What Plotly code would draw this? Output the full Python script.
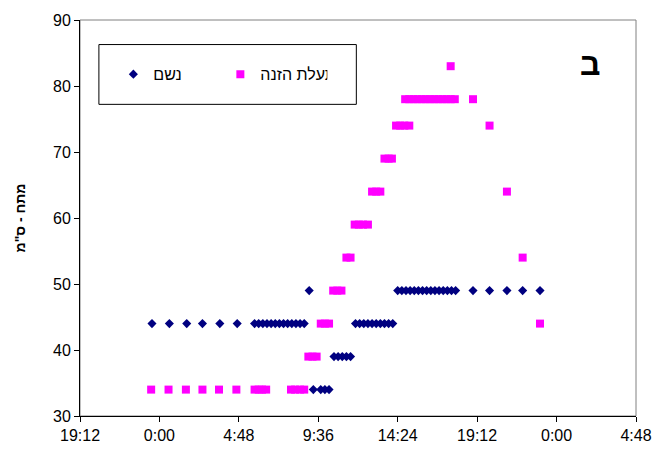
import plotly.graph_objects as go

# x values: hours counted from midnight of the first day (24 = next midnight)
breath_hours = [23.55, 24.6, 25.65, 26.6, 27.65, 28.7,
                29.75, 30.0, 30.25, 30.5, 30.75, 31.0, 31.25, 31.5, 31.75, 32.0, 32.25, 32.5, 32.75,
                33.05,
                33.3, 33.75, 34.0, 34.25,
                34.55, 34.8, 35.05, 35.3, 35.55,
                35.85, 36.1, 36.35, 36.6, 36.85, 37.1, 37.35, 37.6, 37.85, 38.1,
                38.4, 38.65, 38.9, 39.15, 39.4, 39.65, 39.9, 40.15, 40.4, 40.65, 40.9, 41.15, 41.4, 41.65, 41.9,
                42.95, 43.95, 45.0, 45.95, 47.0]
breath_values = [44, 44, 44, 44, 44, 44,
                 44, 44, 44, 44, 44, 44, 44, 44, 44, 44, 44, 44, 44,
                 49,
                 34, 34, 34, 34,
                 39, 39, 39, 39, 39,
                 44, 44, 44, 44, 44, 44, 44, 44, 44, 44,
                 49, 49, 49, 49, 49, 49, 49, 49, 49, 49, 49, 49, 49, 49, 49,
                 49, 49, 49, 49, 49]

feed_hours = [23.5, 24.55, 25.6, 26.6, 27.6, 28.65,
              29.75, 30.0, 30.2, 30.45,
              31.95, 32.2, 32.5, 32.75,
              33.0, 33.25, 33.5,
              33.75, 34.0, 34.25,
              34.5, 34.75, 35.0,
              35.3, 35.55,
              35.8, 36.05, 36.3, 36.6,
              36.85, 37.1, 37.35,
              37.6, 37.85, 38.05,
              38.3, 38.55, 38.8, 39.1,
              38.85, 39.1, 39.35, 39.6, 39.85, 40.1, 40.35, 40.6, 40.85, 41.1, 41.35, 41.6, 41.85,
              41.6,
              42.95, 43.95, 45.0, 45.95, 47.0]
feed_values = [34, 34, 34, 34, 34, 34,
               34, 34, 34, 34,
               34, 34, 34, 34,
               39, 39, 39,
               44, 44, 44,
               49, 49, 49,
               54, 54,
               59, 59, 59, 59,
               64, 64, 64,
               69, 69, 69,
               74, 74, 74, 74,
               78, 78, 78, 78, 78, 78, 78, 78, 78, 78, 78, 78, 78,
               83,
               78, 74, 64, 54, 44]

x_tick_vals = [19.2, 24.0, 28.8, 33.6, 38.4, 43.2, 48.0, 52.8]
x_tick_text = ["19:12", "0:00", "4:48", "9:36", "14:24", "19:12", "0:00", "4:48"]
y_tick_vals = [30, 40, 50, 60, 70, 80, 90]

series_names = ["נשם", "תעלת הזנה"]
y_title = 'מתח - ס"מ'
panel_label = "ב"

FONT = "Liberation Sans, Arial, sans-serif"

fig = go.Figure()
fig.add_trace(go.Scatter(x=breath_hours, y=breath_values, mode="markers",
                         name=series_names[0],
                         marker=dict(symbol="diamond", size=7, color="#000080",
                                     line=dict(width=0))))
fig.add_trace(go.Scatter(x=feed_hours, y=feed_values, mode="markers",
                         name=series_names[1],
                         marker=dict(symbol="square", size=8, color="#FF00FF",
                                     line=dict(width=0))))

# plot-area border (top/right grey)
fig.add_shape(type="rect", xref="paper", yref="paper", x0=0, x1=1, y0=0, y1=1,
              line=dict(color="#808080", width=1), layer="below")
# legend frame
fig.add_shape(type="rect", xref="paper", yref="paper",
              x0=0.034, x1=0.497, y0=0.787, y1=0.938,
              line=dict(color="black", width=1), fillcolor="white", layer="below")

fig.add_annotation(text="<b>" + panel_label + "</b>", xref="paper", yref="paper",
                   x=0.918, y=0.89, showarrow=False,
                   font=dict(family=FONT, size=32, color="black"),
                   xanchor="center", yanchor="middle")

fig.update_layout(
    width=664, height=456,
    margin=dict(l=80, r=21, t=18, b=37),
    paper_bgcolor="white", plot_bgcolor="white",
    font=dict(family=FONT, size=16, color="black"),
    showlegend=True,
    legend=dict(orientation="h", x=0.06, y=0.863, xanchor="left", yanchor="middle",
                bgcolor="rgba(0,0,0,0)", borderwidth=0,
                font=dict(family=FONT, size=16, color="black"),
                entrywidth=62, entrywidthmode="pixels", itemwidth=30),
    xaxis=dict(range=[19.2, 52.8], tickvals=x_tick_vals, ticktext=x_tick_text,
               showgrid=False, zeroline=False, showline=True, linecolor="black",
               linewidth=1, ticks="outside", ticklen=5, tickcolor="black",
               tickfont=dict(family=FONT, size=16)),
    yaxis=dict(range=[30, 90], tickvals=y_tick_vals,
               showgrid=False, zeroline=False, showline=True, linecolor="black",
               linewidth=1, ticks="outside", ticklen=5, tickcolor="black",
               tickfont=dict(family=FONT, size=16),
               title=dict(text="<b>" + y_title + "</b>", font=dict(family=FONT, size=14),
                          standoff=24)),
)

post = (
    "document.documentElement.style.margin='0';"
    "document.documentElement.style.padding='0';"
    "document.documentElement.style.overflow='hidden';"
    "document.body.style.margin='0';"
    "document.body.style.padding='0';"
    "document.body.style.overflow='hidden';"
)

fig.write_html("out.html", config={"displayModeBar": False}, post_script=post)
